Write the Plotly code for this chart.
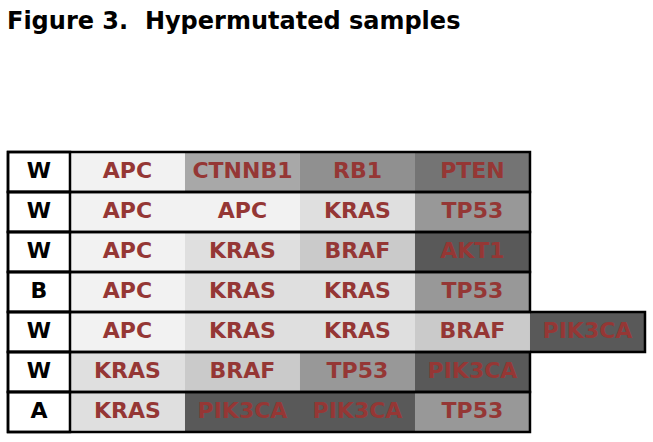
import plotly.graph_objects as go

# ---- data ----
ancestry = ["W", "W", "W", "B", "W", "W", "A"]
gene_rows = [
    ["APC", "CTNNB1", "RB1", "PTEN"],
    ["APC", "APC", "KRAS", "TP53"],
    ["APC", "KRAS", "BRAF", "AKT1"],
    ["APC", "KRAS", "KRAS", "TP53"],
    ["APC", "KRAS", "KRAS", "BRAF", "PIK3CA"],
    ["KRAS", "BRAF", "TP53", "PIK3CA"],
    ["KRAS", "PIK3CA", "PIK3CA", "TP53"],
]
gene_colors = {
    "APC": "#f2f2f2",
    "KRAS": "#dfdfdf",
    "BRAF": "#cacaca",
    "CTNNB1": "#a8a8a8",
    "TP53": "#989898",
    "RB1": "#909090",
    "PTEN": "#747474",
    "AKT1": "#595959",
    "PIK3CA": "#595959",
}
title_text = "Figure 3.  Hypermutated samples"

# ---- styling ----
W, H = 653, 442
col_px, row_px = 115, 40
first_w = 0.539  # width of the ancestry column relative to a gene column
text_red = "#953735"
font_family = "'DejaVu Sans', Verdana, sans-serif"

ml, mr, mt, mb = 4, 4, 148, 6
x0 = -first_w - ml / col_px
x1 = x0 + (W - ml - mr) / col_px
y_top = -0.5 - (4 / row_px)
y_bot = y_top + (H - mt - mb) / row_px

cell_y, cell_base, cell_col, cell_txt_x, cell_txt = [], [], [], [], []
for r, genes in enumerate(gene_rows):
    for c, g in enumerate(genes):
        cell_y.append(r)
        cell_base.append(c)
        cell_col.append(gene_colors[g])
        cell_txt_x.append(c + 0.5)
        cell_txt.append(g)

rows = list(range(len(gene_rows)))
fig = go.Figure()
# gene cells
fig.add_trace(go.Bar(
    orientation="h", y=cell_y, x=[1] * len(cell_y), base=cell_base, width=1,
    marker=dict(color=cell_col, line=dict(width=0)), hoverinfo="skip", showlegend=False,
))
# ancestry cells
fig.add_trace(go.Bar(
    orientation="h", y=rows, x=[first_w] * len(rows), base=[-first_w] * len(rows), width=1,
    marker=dict(color="white", line=dict(color="black", width=2.5)), hoverinfo="skip", showlegend=False,
))
# row outlines
fig.add_trace(go.Bar(
    orientation="h", y=rows, x=[len(g) + first_w for g in gene_rows], base=[-first_w] * len(rows), width=1,
    marker=dict(color="rgba(0,0,0,0)", line=dict(color="black", width=2.5)), hoverinfo="skip", showlegend=False,
))
# gene labels
fig.add_trace(go.Scatter(
    x=cell_txt_x, y=cell_y, mode="text", text=cell_txt,
    textfont=dict(family=font_family, size=22, color=text_red, weight="bold"),
    hoverinfo="skip", showlegend=False,
))
# ancestry labels
fig.add_trace(go.Scatter(
    x=[-first_w / 2] * len(rows), y=rows, mode="text", text=ancestry,
    textfont=dict(family=font_family, size=22, color="black", weight="bold"),
    hoverinfo="skip", showlegend=False,
))

plot_w = W - ml - mr
plot_h = H - mt - mb
fig.add_annotation(
    text=title_text, showarrow=False,
    xref="paper", x=(6 - ml) / plot_w, xanchor="left",
    yref="paper", y=1 + (mt - 21) / plot_h, yanchor="middle",
    borderpad=0,
    font=dict(family=font_family, size=24, color="black", weight="bold"),
)

fig.update_layout(
    width=W, height=H,
    margin=dict(l=ml, r=mr, t=mt, b=mb),
    paper_bgcolor="white", plot_bgcolor="white",
    barmode="overlay",
    xaxis=dict(range=[x0, x1], visible=False, fixedrange=True),
    yaxis=dict(range=[y_bot, y_top], visible=False, fixedrange=True),
)

fig.write_html(
    "out.html",
    config={"displayModeBar": False},
    post_script="document.body.style.margin='0';document.body.style.overflow='hidden';",
)
